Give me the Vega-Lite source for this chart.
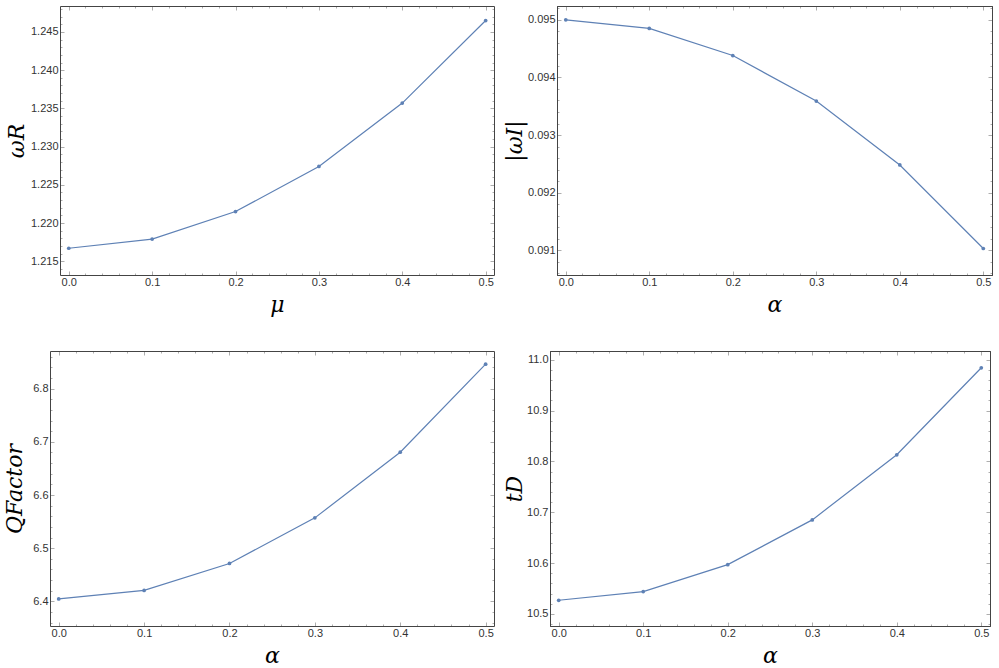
{
  "$schema": "https://vega.github.io/schema/vega-lite/v6.json",
  "padding": {"left": 3, "top": 1, "right": 0, "bottom": 0},
  "background": "white",
  "datasets": {
    "omegaR": [
      {"mu": 0.0, "omegaR": 1.2167},
      {"mu": 0.1, "omegaR": 1.2179},
      {"mu": 0.2, "omegaR": 1.2215},
      {"mu": 0.3, "omegaR": 1.2274},
      {"mu": 0.4, "omegaR": 1.2357},
      {"mu": 0.5, "omegaR": 1.2465}
    ],
    "omegaI": [
      {"alpha": 0.0, "omegaI": 0.09500},
      {"alpha": 0.1, "omegaI": 0.09485},
      {"alpha": 0.2, "omegaI": 0.09438},
      {"alpha": 0.3, "omegaI": 0.09359},
      {"alpha": 0.4, "omegaI": 0.09248},
      {"alpha": 0.5, "omegaI": 0.09103}
    ],
    "qfactor": [
      {"alpha": 0.0, "Q": 6.4044},
      {"alpha": 0.1, "Q": 6.4205},
      {"alpha": 0.2, "Q": 6.4712},
      {"alpha": 0.3, "Q": 6.5570},
      {"alpha": 0.4, "Q": 6.6805},
      {"alpha": 0.5, "Q": 6.8462}
    ],
    "tD": [
      {"alpha": 0.0, "tD": 10.527},
      {"alpha": 0.1, "tD": 10.544},
      {"alpha": 0.2, "tD": 10.597},
      {"alpha": 0.3, "tD": 10.685},
      {"alpha": 0.4, "tD": 10.813},
      {"alpha": 0.5, "tD": 10.984}
    ]
  },
  "config": {
    "view": {"stroke": "#444444", "strokeWidth": 1},
    "axis": {
      "domainColor": "#444444",
      "domainWidth": 1,
      "tickColor": "#999999",
      "tickWidth": 0.8,
      "labelFont": "Liberation Sans",
      "labelFontSize": 11,
      "labelColor": "#333333",
      "labelOverlap": false,
      "labelFlush": false,
      "grid": false,
      "titleFont": "DejaVu Serif",
      "titleFontStyle": "italic",
      "titleFontWeight": "normal",
      "titleFontSize": 22,
      "titleColor": "#000000"
    },
    "axisX": {"labelPadding": 5.5, "titlePadding": 5},
    "axisY": {"labelPadding": 6, "titlePadding": 0.5}
  },
  "columns": 2,
  "align": {"row": "all", "column": "none"},
  "spacing": {"row": 28, "column": 0},
  "concat": [
        {
          "width": 444, "height": 269,
          "view": {"stroke": null},
          "data": {"name": "omegaR"},
          "layer": [
            {
              "mark": {"type": "line", "color": "#5e81b5", "strokeWidth": 1.2},
              "encoding": {
                "x": {"field": "mu", "type": "quantitative",
                  "scale": {"domain": [-0.0105, 0.51], "range": [10, 444], "nice": false, "zero": false},
                  "axis": {"orient": "bottom", "values": [0,0.02,0.04,0.06,0.08,0.1,0.12,0.14,0.16,0.18,0.2,0.22,0.24,0.26,0.28,0.3,0.32,0.34,0.36,0.38,0.4,0.42,0.44,0.46,0.48,0.5],
                    "labelExpr": "abs(datum.value*10-round(datum.value*10))<1e-6 ? format(datum.value,'.1f') : ''",
                    "tickSize": {"condition": {"test": "abs(datum.value*10-round(datum.value*10))<1e-6", "value": -4}, "value": -2},
                    "title": "μ"}},
                "y": {"field": "omegaR", "type": "quantitative",
                  "scale": {"domain": [1.2132, 1.2484], "nice": false, "zero": false},
                  "axis": {"orient": "left", "offset": -10, "titlePadding": 2.2, "values": [1.214,1.215,1.216,1.217,1.218,1.219,1.22,1.221,1.222,1.223,1.224,1.225,1.226,1.227,1.228,1.229,1.23,1.231,1.232,1.233,1.234,1.235,1.236,1.237,1.238,1.239,1.24,1.241,1.242,1.243,1.244,1.245,1.246,1.247,1.248],
                    "labelExpr": "abs(datum.value*200-round(datum.value*200))<1e-6 ? format(datum.value,'.3f') : ''",
                    "tickSize": {"condition": {"test": "abs(datum.value*200-round(datum.value*200))<1e-6", "value": -4}, "value": -2},
                    "title": "ωR"}}
              }
            },
            {
              "mark": {"type": "point", "filled": true, "color": "#5e81b5", "size": 14, "opacity": 1},
              "encoding": {
                "x": {"field": "mu", "type": "quantitative",
                  "scale": {"domain": [-0.0105, 0.51], "range": [10, 444], "nice": false, "zero": false},
                  "axis": {"orient": "top", "values": [0,0.02,0.04,0.06,0.08,0.1,0.12,0.14,0.16,0.18,0.2,0.22,0.24,0.26,0.28,0.3,0.32,0.34,0.36,0.38,0.4,0.42,0.44,0.46,0.48,0.5],
                    "labels": false, "title": null,
                    "tickSize": {"condition": {"test": "abs(datum.value*10-round(datum.value*10))<1e-6", "value": -4}, "value": -2}}},
                "y": {"field": "omegaR", "type": "quantitative",
                  "scale": {"domain": [1.2132, 1.2484], "nice": false, "zero": false},
                  "axis": {"orient": "right", "values": [1.214,1.215,1.216,1.217,1.218,1.219,1.22,1.221,1.222,1.223,1.224,1.225,1.226,1.227,1.228,1.229,1.23,1.231,1.232,1.233,1.234,1.235,1.236,1.237,1.238,1.239,1.24,1.241,1.242,1.243,1.244,1.245,1.246,1.247,1.248],
                    "labels": false, "title": null,
                    "tickSize": {"condition": {"test": "abs(datum.value*200-round(datum.value*200))<1e-6", "value": -4}, "value": -2}}}
              }
            }
          ],
          "resolve": {"scale": {"x": "independent", "y": "independent"}, "axis": {"x": "independent", "y": "independent"}}
        },
        {
          "width": 435, "height": 269,
          "data": {"name": "omegaI"},
          "layer": [
            {
              "mark": {"type": "line", "color": "#5e81b5", "strokeWidth": 1.2},
              "encoding": {
                "x": {"field": "alpha", "type": "quantitative",
                  "scale": {"domain": [-0.0105, 0.5104], "nice": false, "zero": false},
                  "axis": {"orient": "bottom", "values": [0,0.02,0.04,0.06,0.08,0.1,0.12,0.14,0.16,0.18,0.2,0.22,0.24,0.26,0.28,0.3,0.32,0.34,0.36,0.38,0.4,0.42,0.44,0.46,0.48,0.5],
                    "labelExpr": "abs(datum.value*10-round(datum.value*10))<1e-6 ? format(datum.value,'.1f') : ''",
                    "tickSize": {"condition": {"test": "abs(datum.value*10-round(datum.value*10))<1e-6", "value": -4}, "value": -2},
                    "title": "α"}},
                "y": {"field": "omegaI", "type": "quantitative",
                  "scale": {"domain": [0.09057, 0.09524], "nice": false, "zero": false},
                  "axis": {"orient": "left", "values": [0.0906,0.0908,0.091,0.0912,0.0914,0.0916,0.0918,0.092,0.0922,0.0924,0.0926,0.0928,0.093,0.0932,0.0934,0.0936,0.0938,0.094,0.0942,0.0944,0.0946,0.0948,0.095,0.0952],
                    "labelExpr": "abs(datum.value*1000-round(datum.value*1000))<1e-6 ? format(datum.value,'.3f') : ''",
                    "tickSize": {"condition": {"test": "abs(datum.value*1000-round(datum.value*1000))<1e-6", "value": -4}, "value": -2},
                    "title": "|ωI|"}}
              }
            },
            {
              "mark": {"type": "point", "filled": true, "color": "#5e81b5", "size": 14, "opacity": 1},
              "encoding": {
                "x": {"field": "alpha", "type": "quantitative",
                  "scale": {"domain": [-0.0105, 0.5104], "nice": false, "zero": false},
                  "axis": {"orient": "top", "values": [0,0.02,0.04,0.06,0.08,0.1,0.12,0.14,0.16,0.18,0.2,0.22,0.24,0.26,0.28,0.3,0.32,0.34,0.36,0.38,0.4,0.42,0.44,0.46,0.48,0.5],
                    "labels": false, "title": null,
                    "tickSize": {"condition": {"test": "abs(datum.value*10-round(datum.value*10))<1e-6", "value": -4}, "value": -2}}},
                "y": {"field": "omegaI", "type": "quantitative",
                  "scale": {"domain": [0.09057, 0.09524], "nice": false, "zero": false},
                  "axis": {"orient": "right", "values": [0.0906,0.0908,0.091,0.0912,0.0914,0.0916,0.0918,0.092,0.0922,0.0924,0.0926,0.0928,0.093,0.0932,0.0934,0.0936,0.0938,0.094,0.0942,0.0944,0.0946,0.0948,0.095,0.0952],
                    "labels": false, "title": null,
                    "tickSize": {"condition": {"test": "abs(datum.value*1000-round(datum.value*1000))<1e-6", "value": -4}, "value": -2}}}
              }
            }
          ],
          "resolve": {"scale": {"x": "independent", "y": "independent"}, "axis": {"x": "independent", "y": "independent"}}
        },
        {
          "width": 453, "height": 275,
          "view": {"stroke": null},
          "data": {"name": "qfactor"},
          "layer": [
            {
              "mark": {"type": "line", "color": "#5e81b5", "strokeWidth": 1.2},
              "encoding": {
                "x": {"field": "alpha", "type": "quantitative",
                  "scale": {"domain": [-0.0102, 0.5098], "range": [0, 444], "nice": false, "zero": false},
                  "axis": {"orient": "bottom", "values": [0,0.02,0.04,0.06,0.08,0.1,0.12,0.14,0.16,0.18,0.2,0.22,0.24,0.26,0.28,0.3,0.32,0.34,0.36,0.38,0.4,0.42,0.44,0.46,0.48,0.5],
                    "labelExpr": "abs(datum.value*10-round(datum.value*10))<1e-6 ? format(datum.value,'.1f') : ''",
                    "tickSize": {"condition": {"test": "abs(datum.value*10-round(datum.value*10))<1e-6", "value": -4}, "value": -2},
                    "title": "α"}},
                "y": {"field": "Q", "type": "quantitative",
                  "scale": {"domain": [6.3535, 6.871], "nice": false, "zero": false},
                  "axis": {"orient": "left", "titlePadding": 5.8, "values": [6.36,6.38,6.4,6.42,6.44,6.46,6.48,6.5,6.52,6.54,6.56,6.58,6.6,6.62,6.64,6.66,6.68,6.7,6.72,6.74,6.76,6.78,6.8,6.82,6.84,6.86],
                    "labelExpr": "abs(datum.value*10-round(datum.value*10))<1e-6 ? format(datum.value,'.1f') : ''",
                    "tickSize": {"condition": {"test": "abs(datum.value*10-round(datum.value*10))<1e-6", "value": -4}, "value": -2},
                    "title": "QFactor"}}
              }
            },
            {
              "mark": {"type": "point", "filled": true, "color": "#5e81b5", "size": 14, "opacity": 1},
              "encoding": {
                "x": {"field": "alpha", "type": "quantitative",
                  "scale": {"domain": [-0.0102, 0.5098], "range": [0, 444], "nice": false, "zero": false},
                  "axis": {"orient": "top", "values": [0,0.02,0.04,0.06,0.08,0.1,0.12,0.14,0.16,0.18,0.2,0.22,0.24,0.26,0.28,0.3,0.32,0.34,0.36,0.38,0.4,0.42,0.44,0.46,0.48,0.5],
                    "labels": false, "title": null,
                    "tickSize": {"condition": {"test": "abs(datum.value*10-round(datum.value*10))<1e-6", "value": -4}, "value": -2}}},
                "y": {"field": "Q", "type": "quantitative",
                  "scale": {"domain": [6.3535, 6.871], "nice": false, "zero": false},
                  "axis": {"orient": "right", "offset": -9, "values": [6.36,6.38,6.4,6.42,6.44,6.46,6.48,6.5,6.52,6.54,6.56,6.58,6.6,6.62,6.64,6.66,6.68,6.7,6.72,6.74,6.76,6.78,6.8,6.82,6.84,6.86],
                    "labels": false, "title": null,
                    "tickSize": {"condition": {"test": "abs(datum.value*10-round(datum.value*10))<1e-6", "value": -4}, "value": -2}}}
              }
            }
          ],
          "resolve": {"scale": {"x": "independent", "y": "independent"}, "axis": {"x": "independent", "y": "independent"}}
        },
        {
          "width": 440, "height": 275,
          "data": {"name": "tD"},
          "layer": [
            {
              "mark": {"type": "line", "color": "#5e81b5", "strokeWidth": 1.2},
              "encoding": {
                "x": {"field": "alpha", "type": "quantitative",
                  "scale": {"domain": [-0.0103, 0.5103], "nice": false, "zero": false},
                  "axis": {"orient": "bottom", "values": [0,0.02,0.04,0.06,0.08,0.1,0.12,0.14,0.16,0.18,0.2,0.22,0.24,0.26,0.28,0.3,0.32,0.34,0.36,0.38,0.4,0.42,0.44,0.46,0.48,0.5],
                    "labelExpr": "abs(datum.value*10-round(datum.value*10))<1e-6 ? format(datum.value,'.1f') : ''",
                    "tickSize": {"condition": {"test": "abs(datum.value*10-round(datum.value*10))<1e-6", "value": -4}, "value": -2},
                    "title": "α"}},
                "y": {"field": "tD", "type": "quantitative",
                  "scale": {"domain": [10.4764, 11.017], "nice": false, "zero": false},
                  "axis": {"orient": "left", "titlePadding": 0, "values": [10.48,10.5,10.52,10.54,10.56,10.58,10.6,10.62,10.64,10.66,10.68,10.7,10.72,10.74,10.76,10.78,10.8,10.82,10.84,10.86,10.88,10.9,10.92,10.94,10.96,10.98,11.0],
                    "labelExpr": "abs(datum.value*10-round(datum.value*10))<1e-6 ? format(datum.value,'.1f') : ''",
                    "tickSize": {"condition": {"test": "abs(datum.value*10-round(datum.value*10))<1e-6", "value": -4}, "value": -2},
                    "title": "tD"}}
              }
            },
            {
              "mark": {"type": "point", "filled": true, "color": "#5e81b5", "size": 14, "opacity": 1},
              "encoding": {
                "x": {"field": "alpha", "type": "quantitative",
                  "scale": {"domain": [-0.0103, 0.5103], "nice": false, "zero": false},
                  "axis": {"orient": "top", "values": [0,0.02,0.04,0.06,0.08,0.1,0.12,0.14,0.16,0.18,0.2,0.22,0.24,0.26,0.28,0.3,0.32,0.34,0.36,0.38,0.4,0.42,0.44,0.46,0.48,0.5],
                    "labels": false, "title": null,
                    "tickSize": {"condition": {"test": "abs(datum.value*10-round(datum.value*10))<1e-6", "value": -4}, "value": -2}}},
                "y": {"field": "tD", "type": "quantitative",
                  "scale": {"domain": [10.4764, 11.017], "nice": false, "zero": false},
                  "axis": {"orient": "right", "values": [10.48,10.5,10.52,10.54,10.56,10.58,10.6,10.62,10.64,10.66,10.68,10.7,10.72,10.74,10.76,10.78,10.8,10.82,10.84,10.86,10.88,10.9,10.92,10.94,10.96,10.98,11.0],
                    "labels": false, "title": null,
                    "tickSize": {"condition": {"test": "abs(datum.value*10-round(datum.value*10))<1e-6", "value": -4}, "value": -2}}}
              }
            }
          ],
          "resolve": {"scale": {"x": "independent", "y": "independent"}, "axis": {"x": "independent", "y": "independent"}}
        }
  ]
}
